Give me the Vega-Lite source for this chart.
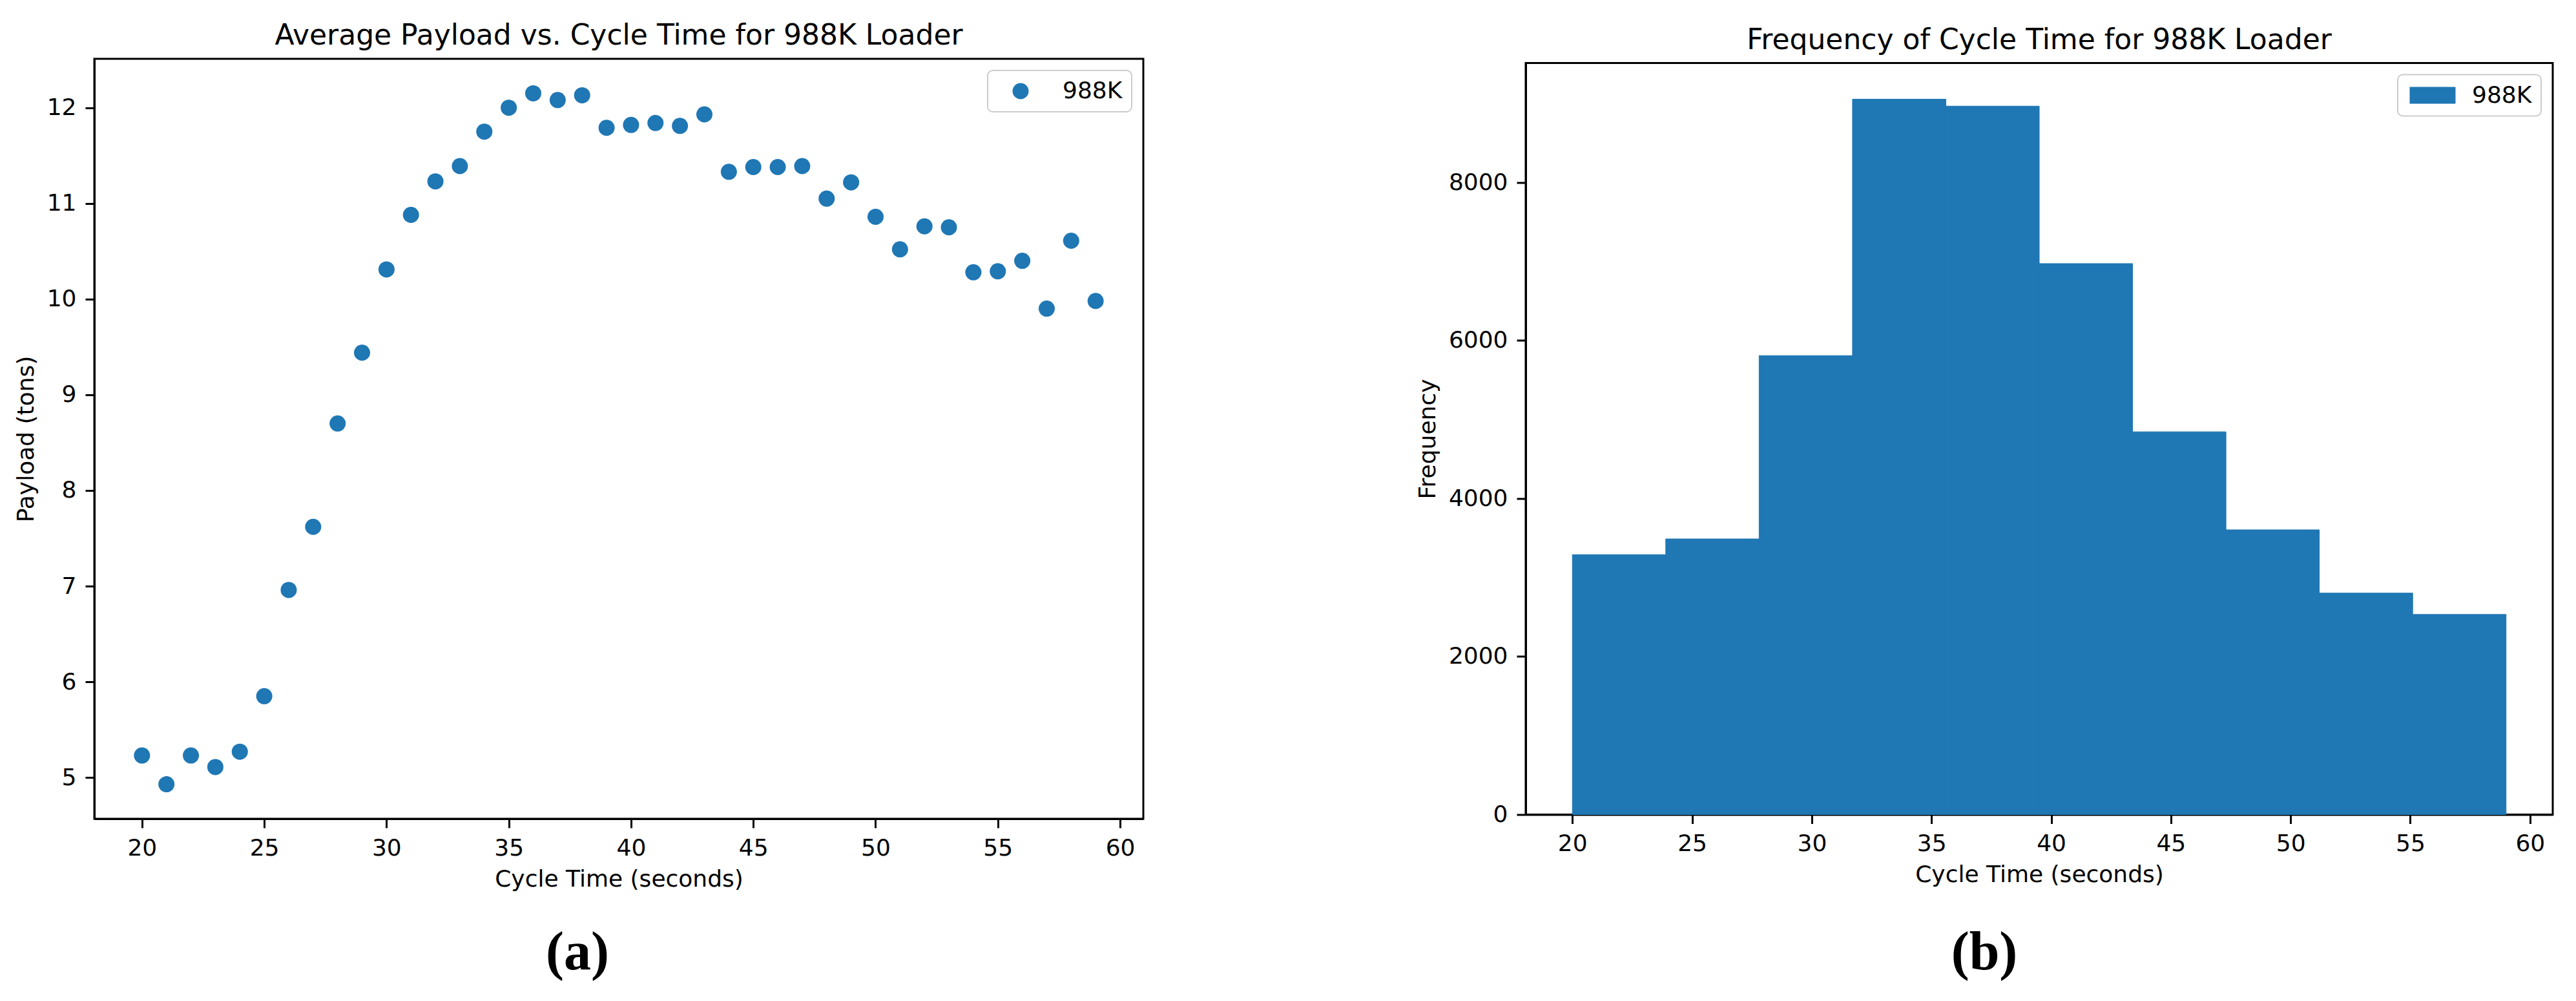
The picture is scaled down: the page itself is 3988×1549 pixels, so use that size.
{
  "$schema": "https://vega.github.io/schema/vega-lite/v6.json",
  "background": "white",
  "padding": {"left": 20, "top": 32, "right": 10, "bottom": 10},
  "bounds": "flush",
  "columns": 2,
  "spacing": {"row": 223, "column": 592},
  "center": true,
  "config": {
    "font": "DejaVu Sans",
    "view": {"stroke": "black", "strokeWidth": 3},
    "axis": {
      "labelFont": "DejaVu Sans", "labelFontSize": 36, "labelColor": "black",
      "titleFont": "DejaVu Sans", "titleFontSize": 36, "titleFontWeight": "normal", "titleColor": "black",
      "tickSize": 14, "tickWidth": 3, "tickColor": "black",
      "domainColor": "black", "domainWidth": 3, "grid": false,
      "labelPadding": 14, "titlePadding": 13
    },
    "title": {"font": "DejaVu Sans", "fontSize": 44, "fontWeight": "normal", "color": "black"},
    "legend": {
      "title": null, "orient": "top-right", "offset": 18, "padding": 14,
      "strokeColor": "#cccccc", "strokeWidth": 2, "fillColor": "white", "cornerRadius": 8,
      "labelFont": "DejaVu Sans", "labelFontSize": 36, "labelColor": "black"
    }
  },
  "resolve": {"scale": {"color": "independent"}, "legend": {"color": "independent"}},
  "datasets": {
    "scatter": [
      {"cycle_time": 20, "payload": 5.23, "series": "988K"},
      {"cycle_time": 21, "payload": 4.93, "series": "988K"},
      {"cycle_time": 22, "payload": 5.23, "series": "988K"},
      {"cycle_time": 23, "payload": 5.11, "series": "988K"},
      {"cycle_time": 24, "payload": 5.27, "series": "988K"},
      {"cycle_time": 25, "payload": 5.85, "series": "988K"},
      {"cycle_time": 26, "payload": 6.96, "series": "988K"},
      {"cycle_time": 27, "payload": 7.62, "series": "988K"},
      {"cycle_time": 28, "payload": 8.70, "series": "988K"},
      {"cycle_time": 29, "payload": 9.44, "series": "988K"},
      {"cycle_time": 30, "payload": 10.31, "series": "988K"},
      {"cycle_time": 31, "payload": 10.88, "series": "988K"},
      {"cycle_time": 32, "payload": 11.23, "series": "988K"},
      {"cycle_time": 33, "payload": 11.39, "series": "988K"},
      {"cycle_time": 34, "payload": 11.75, "series": "988K"},
      {"cycle_time": 35, "payload": 12.00, "series": "988K"},
      {"cycle_time": 36, "payload": 12.15, "series": "988K"},
      {"cycle_time": 37, "payload": 12.08, "series": "988K"},
      {"cycle_time": 38, "payload": 12.13, "series": "988K"},
      {"cycle_time": 39, "payload": 11.79, "series": "988K"},
      {"cycle_time": 40, "payload": 11.82, "series": "988K"},
      {"cycle_time": 41, "payload": 11.84, "series": "988K"},
      {"cycle_time": 42, "payload": 11.81, "series": "988K"},
      {"cycle_time": 43, "payload": 11.93, "series": "988K"},
      {"cycle_time": 44, "payload": 11.33, "series": "988K"},
      {"cycle_time": 45, "payload": 11.38, "series": "988K"},
      {"cycle_time": 46, "payload": 11.38, "series": "988K"},
      {"cycle_time": 47, "payload": 11.39, "series": "988K"},
      {"cycle_time": 48, "payload": 11.05, "series": "988K"},
      {"cycle_time": 49, "payload": 11.22, "series": "988K"},
      {"cycle_time": 50, "payload": 10.86, "series": "988K"},
      {"cycle_time": 51, "payload": 10.52, "series": "988K"},
      {"cycle_time": 52, "payload": 10.76, "series": "988K"},
      {"cycle_time": 53, "payload": 10.75, "series": "988K"},
      {"cycle_time": 54, "payload": 10.28, "series": "988K"},
      {"cycle_time": 55, "payload": 10.29, "series": "988K"},
      {"cycle_time": 56, "payload": 10.40, "series": "988K"},
      {"cycle_time": 57, "payload": 9.90, "series": "988K"},
      {"cycle_time": 58, "payload": 10.61, "series": "988K"},
      {"cycle_time": 59, "payload": 9.98, "series": "988K"}
    ],
    "histogram": [
      {"bin_start": 20.0, "bin_end": 23.9, "count": 3290, "series": "988K"},
      {"bin_start": 23.9, "bin_end": 27.8, "count": 3489, "series": "988K"},
      {"bin_start": 27.8, "bin_end": 31.7, "count": 5809, "series": "988K"},
      {"bin_start": 31.7, "bin_end": 35.6, "count": 9055, "series": "988K"},
      {"bin_start": 35.6, "bin_end": 39.5, "count": 8967, "series": "988K"},
      {"bin_start": 39.5, "bin_end": 43.4, "count": 6974, "series": "988K"},
      {"bin_start": 43.4, "bin_end": 47.3, "count": 4845, "series": "988K"},
      {"bin_start": 47.3, "bin_end": 51.2, "count": 3604, "series": "988K"},
      {"bin_start": 51.2, "bin_end": 55.1, "count": 2803, "series": "988K"},
      {"bin_start": 55.1, "bin_end": 59.0, "count": 2533, "series": "988K"}
    ]
  },
  "concat": [
    {
      "width": 1624,
      "height": 1176,
      "title": {"text": "Average Payload vs. Cycle Time for 988K Loader", "frame": "group", "baseline": "alphabetic", "offset": -22},
      "data": {"name": "scatter"},
      "mark": {"type": "circle", "opacity": 1, "size": 625},
      "encoding": {
        "x": {"field": "cycle_time", "type": "quantitative",
              "scale": {"domain": [18.05, 60.95], "nice": false, "zero": false},
              "axis": {"values": [20, 25, 30, 35, 40, 45, 50, 55, 60], "title": "Cycle Time (seconds)"}},
        "y": {"field": "payload", "type": "quantitative",
              "scale": {"domain": [4.569, 12.511], "nice": false, "zero": false},
              "axis": {"values": [5, 6, 7, 8, 9, 10, 11, 12], "title": "Payload (tons)"}},
        "color": {"field": "series", "type": "nominal",
                  "scale": {"range": ["#1f77b4"]},
                  "legend": {"symbolType": "circle", "symbolSize": 625, "symbolStrokeWidth": 0, "symbolOffset": 19, "labelOffset": 47}}
      }
    },
    {
      "width": 1590,
      "height": 1163,
      "title": {"text": "Frequency of Cycle Time for 988K Loader", "frame": "group", "baseline": "alphabetic", "offset": -22},
      "data": {"name": "histogram"},
      "mark": {"type": "bar", "opacity": 1, "stroke": "#1f77b4", "strokeWidth": 1},
      "encoding": {
        "x": {"field": "bin_start", "type": "quantitative",
              "scale": {"domain": [18.05, 60.95], "nice": false, "zero": false},
              "axis": {"values": [20, 25, 30, 35, 40, 45, 50, 55, 60], "title": "Cycle Time (seconds)"}},
        "x2": {"field": "bin_end"},
        "y": {"field": "count", "type": "quantitative",
              "scale": {"domain": [0, 9513], "nice": false},
              "axis": {"values": [0, 2000, 4000, 6000, 8000], "format": "d", "title": "Frequency"}},
        "y2": {"datum": 0},
        "color": {"field": "series", "type": "nominal",
                  "scale": {"range": ["#1f77b4"]},
                  "legend": {"symbolType": "M-2.73,-1H2.73V1H-2.73Z", "symbolSize": 676, "symbolStrokeWidth": 0, "symbolOffset": 22, "labelOffset": 43}}
      }
    },
    {
      "width": 1624,
      "height": 20,
      "view": {"stroke": null},
      "data": {"values": [{"caption": "(a)"}]},
      "mark": {"type": "text", "font": "Liberation Serif", "fontWeight": "bold", "fontSize": 84, "baseline": "alphabetic", "align": "center", "dx": -64, "color": "black"},
      "encoding": {"text": {"field": "caption"}}
    },
    {
      "width": 1590,
      "height": 20,
      "view": {"stroke": null},
      "data": {"values": [{"caption": "(b)"}]},
      "mark": {"type": "text", "font": "Liberation Serif", "fontWeight": "bold", "fontSize": 84, "baseline": "alphabetic", "align": "center", "dx": -85, "color": "black"},
      "encoding": {"text": {"field": "caption"}}
    }
  ]
}
